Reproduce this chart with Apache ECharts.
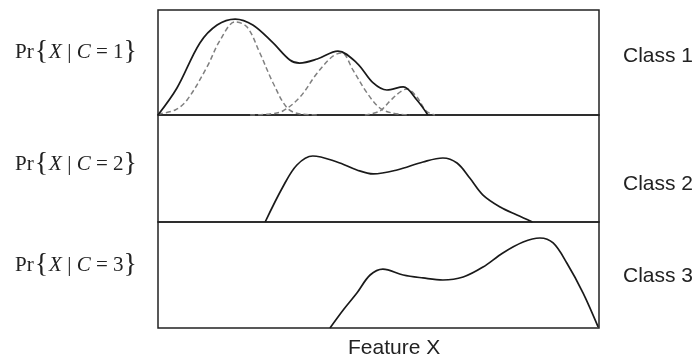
<!DOCTYPE html>
<html><head><meta charset="utf-8">
<script src="https://cdn.jsdelivr.net/npm/echarts@6/dist/echarts.min.js"></script>
<style>html,body{margin:0;padding:0;background:#fff}#c{width:700px;height:360px}</style>
</head><body><div id="c"></div>
<script>
// Feature X scale 0-100, density height 0-100 within each panel
const class1Mixture = [[0,0],[4.3,25.7],[9.5,68.6],[13.4,85.7],[17.5,91.4],[21.5,85.7],[26.1,68.6],[29.9,52.4],[32.1,49.5],[36.1,53.3],[40.8,60.9],[45.1,49.5],[48.8,30.5],[51.9,23.8],[55.6,26.7],[58.7,14.3],[61.2,0]];
const class1Comp1 = [[0,1],[3.9,4.8],[6.6,14.3],[11.1,45.7],[14.1,71.4],[17.5,88.6],[20.2,83.8],[23.1,59],[26.1,30.5],[29.3,6.7],[32.2,1],[36.7,0]];
const class1Comp2 = [[20.9,0],[25.4,1],[28.3,3.8],[32.2,17.1],[36.1,40],[39.7,56.2],[41.7,59],[44.2,42.9],[47.4,21],[50.3,6.7],[53.1,1.9],[57.1,0]];
const class1Comp3 = [[46.9,0],[50.3,3.8],[52.6,13.3],[54.9,21.9],[56.5,24.8],[58.7,17.1],[60.8,3.8],[62.8,0]];
const class2Density = [[24.3,0],[28.3,32.7],[31.5,53.3],[35.1,61.7],[40.6,56.1],[45.1,48.6],[48.8,44.9],[54.2,48.6],[60.1,56.1],[64.6,59.8],[67.8,55.1],[70.7,41.1],[73.7,25.2],[77.6,14],[81.4,6.5],[84.9,0]];
const class3Density = [[39,0],[42,17],[45.1,33],[48.1,50],[51,55.6],[55.6,50],[60.1,47.2],[64.6,45.3],[69.2,48.1],[73.7,57.5],[78.2,70.8],[82.8,81.1],[86.6,84.9],[89.6,80.2],[92.7,61.3],[96.4,33],[99.8,1]];
const classNames = ['Class 1','Class 2','Class 3'];
const condLabels = ['1','2','3'];

const chart = echarts.init(document.getElementById('c'));
const grids = [
  {left:158, top:10, width:441, height:105},
  {left:158, top:115, width:441, height:107},
  {left:158, top:222, width:441, height:106}
].map(g => Object.assign(g, {show:true, borderColor:'#222', borderWidth:1.5, backgroundColor:'transparent'}));
const xAxes = [0,1,2].map(i => ({type:'value', gridIndex:i, min:0, max:100, show:false}));
const yAxes = [0,1,2].map(i => ({type:'value', gridIndex:i, min:0, max:100, show:false}));
const solid = {type:'line', smooth:0.35, symbol:'none', lineStyle:{color:'#1a1a1a', width:1.7}, z:3, silent:true};
const dashed = {type:'line', smooth:0.35, symbol:'none', lineStyle:{color:'#808080', width:1.5, type:[5,3]}, z:2, silent:true};
const series = [
  Object.assign({}, dashed, {xAxisIndex:0, yAxisIndex:0, data:class1Comp1}),
  Object.assign({}, dashed, {xAxisIndex:0, yAxisIndex:0, data:class1Comp2}),
  Object.assign({}, dashed, {xAxisIndex:0, yAxisIndex:0, data:class1Comp3}),
  Object.assign({}, solid, {xAxisIndex:0, yAxisIndex:0, data:class1Mixture}),
  Object.assign({}, solid, {xAxisIndex:1, yAxisIndex:1, data:class2Density}),
  Object.assign({}, solid, {xAxisIndex:2, yAxisIndex:2, data:class3Density})
];
const leftY = [55, 167, 268];
const rightY = [58, 186, 278];
const rich = {
  n:{fontFamily:'Liberation Serif', fontSize:21, color:'#222'},
  s:{fontFamily:'Liberation Serif', fontSize:21, color:'#222'},
  i:{fontFamily:'Liberation Serif', fontSize:21, fontStyle:'italic', color:'#222'},
  b:{fontFamily:'Liberation Serif', fontSize:28, color:'#222', padding:[0,1,0,1]}
};
const graphic = [];
condLabels.forEach((c, k) => {
  graphic.push({type:'text', left:15, top:leftY[k]-17, silent:true,
    style:{text:'{n|Pr}{b|{}{i|X}{s| | }{i|C}{s| = }{n|'+c+'}}', rich:rich,
      fontFamily:'Liberation Serif', fontSize:28, fill:'#222'}});
});
classNames.forEach((name, k) => {
  graphic.push({type:'text', left:623, top:rightY[k]-12, silent:true,
    style:{text:name, fontFamily:'Liberation Sans', fontSize:21, fill:'#222'}});
});
graphic.push({type:'text', left:348, top:338, silent:true,
  style:{text:'Feature X', fontFamily:'Liberation Sans', fontSize:21, fill:'#222'}});
chart.setOption({animation:false, grid:grids, xAxis:xAxes, yAxis:yAxes, series:series, graphic:graphic});
</script></body></html>
